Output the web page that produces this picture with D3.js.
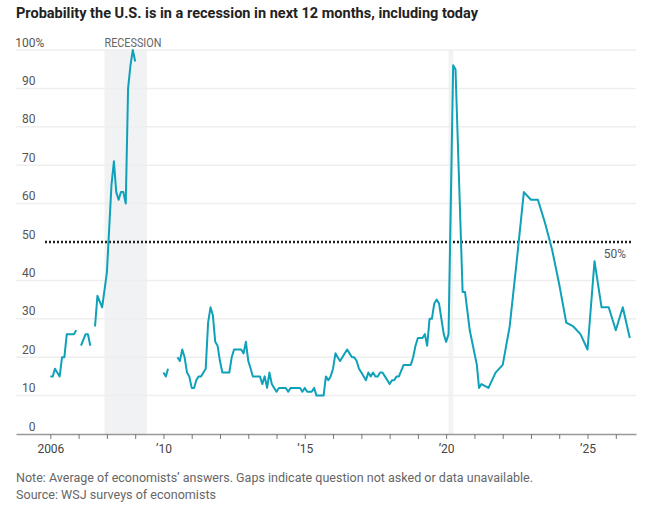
<!DOCTYPE html>
<html>
<head>
    <title>Recession probability</title>
    <script src="https://d3js.org/d3.v7.min.js"></script>
    <style>
        body { margin: 0; background: #fff; }
        svg text { font-family: Roboto, "Noto Sans", sans-serif; }
    </style>
</head>
<body>
    <svg id="chart"></svg>
    <script>
        const width = 650;
        const height = 510;

        // survey month and average probability (%), null = gap in survey
        const months = [
            "2006-01","2006-02","2006-03","2006-05","2006-06","2006-07","2006-08","2006-11","2006-12","2007-01",
            "2007-02","2007-04","2007-05","2007-06","2007-07",
            "2007-08","2007-09","2007-11","2008-01","2008-03","2008-04","2008-05","2008-06","2008-07","2008-08",
            "2008-09","2008-10","2008-11","2008-12","2009-01","2009-02",
            "2010-01","2010-02","2010-03","2010-04",
            "2010-07","2010-08","2010-09","2010-10","2010-11","2010-12","2011-01","2011-02","2011-03","2011-04",
            "2011-05","2011-07","2011-08","2011-09","2011-10","2011-11","2011-12","2012-01","2012-02","2012-05",
            "2012-06","2012-07","2012-10","2012-11","2012-12","2013-01","2013-02","2013-03","2013-06","2013-07",
            "2013-08","2013-09","2013-10","2013-11","2013-12","2014-01","2014-02","2014-05","2014-06","2014-07",
            "2014-11","2014-12","2015-01","2015-02","2015-04","2015-05","2015-06","2015-09","2015-10","2015-11",
            "2015-12","2016-01","2016-02","2016-03","2016-04","2016-07","2016-08","2016-09","2016-10","2016-11",
            "2016-12","2017-01","2017-03","2017-04","2017-05","2017-06","2017-07","2017-08","2017-09","2017-10",
            "2017-11","2018-01","2018-02","2018-03","2018-04","2018-05","2018-07","2018-10","2018-11","2018-12",
            "2019-01","2019-03","2019-04","2019-05","2019-06","2019-07","2019-08","2019-09","2019-10","2019-12",
            "2020-01","2020-02","2020-04","2020-05","2020-08","2020-09","2020-11","2021-02","2021-03","2021-04",
            "2021-07","2021-10","2022-01","2022-04","2022-07","2022-10","2023-01","2023-04","2023-07","2023-10",
            "2024-01","2024-04","2024-07","2024-10","2025-01","2025-04","2025-07","2025-10","2026-01","2026-04",
            "2026-07"
        ];
        const probability = [
            15,15,17,15,20,20,26,26,27,null,
            23,26,26,23,null,
            28,36,33,42,65,71,63,61,63,63,
            60,90,96,100,97,null,
            16,15,17,null,
            20,19,22,20,16,15,12,12,14,15,
            15,17,29,33,31,24,23,19,16,16,
            20,22,22,21,24,19,17,15,15,13,
            15,12,16,13,12,11,12,12,11,12,
            12,11,12,11,11,12,10,10,15,14,
            15,17,21,20,19,22,21,20,20,19,
            17,16,14,16,15,16,15,15,16,16,
            15,13,14,14,15,15,18,18,20,23,
            25,25,26,23,30,30,34,35,34,26,
            24,26,96,95,37,37,27,18,12,13,
            12,16,18,28,45,63,61,61,55,48,
            39,29,28,26,22,45,33,33,27,33,
            25
        ];

        const recessions = [["2007-12", "2009-06"], ["2020-02", "2020-04"]];
        const yTicks = [0, 10, 20, 30, 40, 50, 60, 70, 80, 90, 100];
        const xTickYears = d3.range(2006, 2027);
        const xLabelYears = [2006, 2010, 2015, 2020, 2025];

        const parseMonth = d3.timeParse("%Y-%m");
        const data = months.map((m, i) => ({ date: parseMonth(m), value: probability[i] }));

        const svg = d3.select("#chart")
            .attr("width", width)
            .attr("height", height);

        const plotLeft = 16, plotRight = 636, plotTop = 50, plotBottom = 434;

        const x = d3.scaleTime()
            .domain([new Date(2004, 9, 14), new Date(2026, 8, 19)])
            .range([plotLeft, plotRight]);

        const y = d3.scaleLinear()
            .domain([0, 100])
            .range([plotBottom, plotTop]);

        // title
        svg.append("text")
            .attr("x", plotLeft)
            .attr("y", 18)
            .attr("textLength", 462)
            .attr("lengthAdjust", "spacingAndGlyphs")
            .style("font-size", "14.5px")
            .style("font-weight", "bold")
            .style("fill", "#222")
            .text("Probability the U.S. is in a recession in next 12 months, including today");

        // recession shading
        svg.append("g")
            .selectAll("rect")
            .data(recessions)
            .enter().append("rect")
            .attr("x", d => x(parseMonth(d[0])))
            .attr("width", d => x(parseMonth(d[1])) - x(parseMonth(d[0])))
            .attr("y", plotTop)
            .attr("height", plotBottom - plotTop)
            .style("fill", "#f1f2f4");

        svg.append("text")
            .attr("x", x(parseMonth(recessions[0][0])))
            .attr("y", plotTop - 3)
            .attr("textLength", 57)
            .attr("lengthAdjust", "spacingAndGlyphs")
            .style("font-size", "12px")
            .style("fill", "#666")
            .text("RECESSION");

        // gridlines
        svg.append("g")
            .selectAll("line")
            .data(yTicks.filter(d => d > 0 && d !== 50))
            .enter().append("line")
            .attr("x1", plotLeft)
            .attr("x2", plotRight)
            .attr("y1", d => y(d))
            .attr("y2", d => y(d))
            .style("stroke", "#eeeeee")
            .style("stroke-width", 1.5);

        // y labels
        const yLabels = svg.append("g");
        yLabels.selectAll("text")
            .data(yTicks)
            .enter().append("text")
            .attr("x", 35.5)
            .attr("y", d => y(d) - 3.5)
            .attr("text-anchor", "end")
            .style("font-size", "12px")
            .style("fill", "#555")
            .text(d => d);
        yLabels.append("text")
            .attr("x", 35.5)
            .attr("y", y(100) - 3.5)
            .style("font-size", "12px")
            .style("fill", "#555")
            .text("%");

        // x axis
        const xAxis = d3.axisBottom(x)
            .tickValues(xTickYears.map(yr => new Date(yr, 0, 1)))
            .tickSize(5)
            .tickSizeOuter(0)
            .tickFormat(d => {
                const yr = d.getFullYear();
                if (!xLabelYears.includes(yr)) return "";
                return yr === 2006 ? "2006" : "\u2019" + String(yr).slice(2);
            });

        const axisG = svg.append("g")
            .attr("transform", `translate(0,${plotBottom})`)
            .call(xAxis);
        axisG.select(".domain").style("stroke", "#999").style("stroke-width", 1.5);
        axisG.selectAll(".tick line").style("stroke", "#777");
        axisG.selectAll(".tick text")
            .attr("y", 10)
            .style("font-family", "Roboto, sans-serif")
            .style("font-size", "12px")
            .style("fill", "#444");

        // 50% reference
        svg.append("line")
            .attr("x1", 45)
            .attr("x2", 633)
            .attr("y1", y(50))
            .attr("y2", y(50))
            .style("stroke", "#222")
            .style("stroke-width", 2.5)
            .style("stroke-dasharray", "2,2");

        svg.append("text")
            .attr("x", 626)
            .attr("y", y(50) + 16)
            .attr("text-anchor", "end")
            .style("font-size", "12px")
            .style("fill", "#555")
            .text("50%");

        // line
        const line = d3.line()
            .defined(d => d.value !== null)
            .x(d => x(d.date))
            .y(d => y(d.value));

        svg.append("path")
            .datum(data)
            .attr("d", line)
            .style("fill", "none")
            .style("stroke", "#0ea1b9")
            .style("stroke-width", 2)
            .style("stroke-linejoin", "round");

        // notes
        svg.append("text")
            .attr("x", plotLeft)
            .attr("y", 482)
            .attr("textLength", 517)
            .attr("lengthAdjust", "spacingAndGlyphs")
            .style("font-size", "12.5px")
            .style("fill", "#666")
            .text("Note: Average of economists\u2019 answers. Gaps indicate question not asked or data unavailable.");

        svg.append("text")
            .attr("x", plotLeft)
            .attr("y", 499)
            .attr("textLength", 200)
            .attr("lengthAdjust", "spacingAndGlyphs")
            .style("font-size", "12.5px")
            .style("fill", "#666")
            .text("Source: WSJ surveys of economists");
    </script>
</body>
</html>
